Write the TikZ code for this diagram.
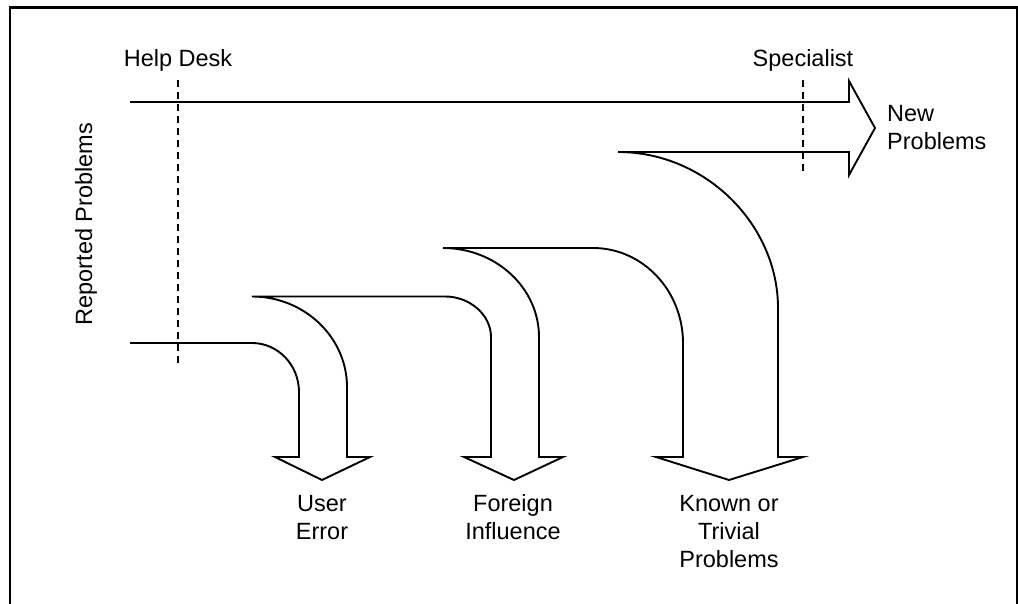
\documentclass[tikz,border=0pt]{standalone}
\usepackage{fontspec}
\setmainfont{Liberation Sans}
\begin{document}
\begin{tikzpicture}[x=1pt,y=-1pt,
  lbl/.style={inner sep=0pt, font=\fontsize{23.5}{28}\selectfont, align=center},
  flow/.style={line width=1.9pt, line join=miter},
  guide/.style={line width=1.8pt, dash pattern=on 7pt off 5pt}]
\useasboundingbox (0,0) rectangle (1018,604);
% frame
\draw[line width=2.6pt] (10,606) -- (10,7.5) -- (1017,7.5) -- (1017,606);
% guide lines
\coordinate (hdtop) at (178,80);
\coordinate (hdbot) at (178,365);
\coordinate (sptop) at (803,80);
\coordinate (spbot) at (803,175);
\draw[guide] (hdtop) -- (hdbot);
\draw[guide] (sptop) -- (spbot);
% flow outline
\draw[flow]
  (130,102) -- (849,102) -- (849,81) -- (875,128) -- (849,175) -- (849,152) -- (618,152)
  .. controls (706,152) and (778,225) .. (778,308)
  -- (778,457) -- (803,457) -- (729,480) -- (656,457) -- (683,457) -- (683,343)
  .. controls (683,291) and (643,248) .. (593,248)
  -- (443,248)
  .. controls (496,248) and (539,288) .. (539,337)
  -- (539,457) -- (563,457) -- (514,480) -- (464,457) -- (491,457) -- (491,337)
  .. controls (491,315) and (470,296.5) .. (445,296.5)
  -- (252,296.5)
  .. controls (304,296.5) and (347,337) .. (347,387)
  -- (347,457) -- (370,457) -- (322,480) -- (275,457) -- (299,457) -- (299,392)
  .. controls (299,365) and (278,343) .. (252,343)
  -- (130,343);
% labels
\node[lbl, anchor=base] (helpdesk) at (178,67) {Help Desk};
\node[lbl, anchor=base] (specialist) at (803,67) {Specialist};
\node[lbl, anchor=base west, align=left] (newp) at (887,150) {New\\Problems};
\node[lbl, anchor=base, rotate=90] (reported) at (92,224) {Reported Problems};
\node[lbl, anchor=base] (user) at (322,539) {User\\Error};
\node[lbl, anchor=base] (foreign) at (513,539) {Foreign\\Influence};
\node[lbl, anchor=base] (known) at (729,567) {Known or\\Trivial\\Problems};
\end{tikzpicture}
\end{document}
